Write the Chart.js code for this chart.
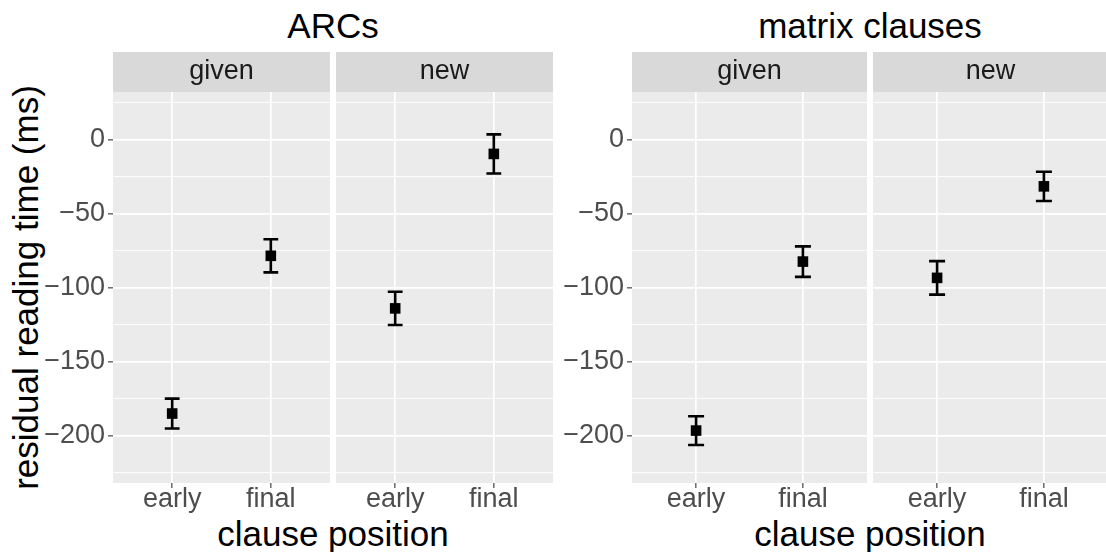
<!DOCTYPE html>
<html>
<head>
<meta charset="utf-8">
<title>Residual reading time by clause position</title>
<script src="https://cdn.jsdelivr.net/npm/chart.js@4/dist/chart.umd.min.js"></script>
<style>
  html, body {
    margin: 0; padding: 0; background: #ffffff;
    width: 1106px; height: 552px; overflow: hidden; position: relative;
    font-family: "Liberation Sans", Arial, sans-serif;
  }
  .panel { position: absolute; }
  .panel canvas { display: block; }
  .label {
    position: absolute; white-space: nowrap; color: #000000;
    font-size: 35px; line-height: 35px; text-align: center;
  }
</style>
</head>
<body>

<div class="label" id="titleLeft"  style="left:183px;  top:8px;   width:300px;">ARCs</div>
<div class="label" id="titleRight" style="left:720px;  top:8px;   width:300px;">matrix clauses</div>
<div class="label" id="xTitleLeft"  style="left:183px; top:516px; width:300px;">clause position</div>
<div class="label" id="xTitleRight" style="left:720px; top:516px; width:300px;">clause position</div>
<div class="label" id="yTitle" style="left:-225px; top:270px; width:500px; transform:rotate(-90deg);">residual reading time (ms)</div>

<div class="panel" id="p1" style="left:43px;  top:52px; width:287px; height:464px;"><canvas id="c1"></canvas></div>
<div class="panel" id="p2" style="left:336px; top:52px; width:217px; height:464px;"><canvas id="c2"></canvas></div>
<div class="panel" id="p3" style="left:562px; top:52px; width:305px; height:464px;"><canvas id="c3"></canvas></div>
<div class="panel" id="p4" style="left:873px; top:52px; width:235px; height:464px;"><canvas id="c4"></canvas></div>

<script>
// ---- data -------------------------------------------------------------
const positions = ['early', 'final'];
const facets = ['given', 'new'];
const yMajorTicks = [-200, -150, -100, -50, 0];
const yMinorTicks = [-225, -175, -125, -75, -25, 25];

// ARCs: mean residual reading time (ms) and standard error, per clause position
const arcGivenMean = [-185.1, -78.6];
const arcGivenSE   = [10.1, 11.2];
const arcNewMean   = [-114.1, -9.8];
const arcNewSE     = [11.2, 13.2];

// matrix clauses
const matGivenMean = [-196.6, -82.5];
const matGivenSE   = [9.7, 10.3];
const matNewMean   = [-93.5, -31.7];
const matNewSE     = [11.3, 9.9];

// ---- styling ----------------------------------------------------------
const FONT = 'Liberation Sans';
const Y_MIN = -232, Y_MAX = 32;
const STRIP_H = 40;
Chart.defaults.font.family = FONT;

const fmt = v => (v < 0 ? '\u2212' + Math.abs(v) : String(v));
const isMajor = v => yMajorTicks.includes(v);

// grey panel background + facet strip
const panelBackground = {
  id: 'panelBackground',
  beforeDraw(chart) {
    const { ctx, chartArea: a } = chart;
    ctx.save();
    ctx.fillStyle = '#D9D9D9';
    ctx.fillRect(a.left, a.top - STRIP_H, a.right - a.left, STRIP_H);
    ctx.fillStyle = '#EBEBEB';
    ctx.fillRect(a.left, a.top, a.right - a.left, a.bottom - a.top);
    ctx.restore();
  }
};

// mean +/- SE error bars, drawn under the points
const errorBars = {
  id: 'errorBars',
  beforeDatasetsDraw(chart, args, opts) {
    const { ctx, scales: { x, y } } = chart;
    const pts = chart.data.datasets[0].data;
    ctx.save();
    ctx.strokeStyle = '#000000';
    ctx.lineWidth = 2.6;
    ctx.lineCap = 'butt';
    pts.forEach((p, i) => {
      const se = opts.se[i];
      const px = x.getPixelForValue(p.x);
      const xl = x.getPixelForValue(p.x - opts.halfWidth);
      const xr = x.getPixelForValue(p.x + opts.halfWidth);
      const yt = y.getPixelForValue(p.y + se);
      const yb = y.getPixelForValue(p.y - se);
      ctx.beginPath();
      ctx.moveTo(px, yt); ctx.lineTo(px, yb);
      ctx.moveTo(xl, yt); ctx.lineTo(xr, yt);
      ctx.moveTo(xl, yb); ctx.lineTo(xr, yb);
      ctx.stroke();
    });
    ctx.restore();
  }
};

function facetPanel(canvasId, stripText, means, ses, showY) {
  return new Chart(document.getElementById(canvasId), {
    type: 'scatter',
    data: {
      datasets: [{
        data: positions.map((p, i) => ({ x: i + 1, y: means[i] })),
        pointStyle: 'rect',
        pointRadius: 7.5,
        pointHoverRadius: 7.5,
        backgroundColor: '#000000',
        borderWidth: 0
      }]
    },
    options: {
      animation: false,
      responsive: true,
      maintainAspectRatio: false,
      events: [],
      layout: { padding: 0, autoPadding: false },
      plugins: {
        legend: { display: false },
        tooltip: { enabled: false },
        title: {
          display: true,
          fullSize: false,
          text: stripText,
          color: '#1A1A1A',
          font: { family: FONT, size: 27, weight: 'normal', lineHeight: 1.2 },
          padding: { top: 3.8, bottom: 3.8 }
        },
        errorBars: { se: ses, halfWidth: 0.075 }
      },
      scales: {
        x: {
          type: 'linear',
          min: 0.4, max: 2.6,
          afterBuildTicks: s => { s.ticks = positions.map((p, i) => ({ value: i + 1 })); },
          afterFit: s => { s.height = 33; },
          ticks: {
            callback: v => positions[v - 1],
            color: '#4D4D4D',
            font: { family: FONT, size: 27, lineHeight: 1 },
            padding: -2,
            maxRotation: 0, autoSkip: false
          },
          grid: { color: '#FFFFFF', lineWidth: 1.7, tickColor: '#333333', tickLength: 5, tickWidth: 1.1 },
          border: { display: false }
        },
        y: {
          type: 'linear',
          min: Y_MIN, max: Y_MAX,
          afterBuildTicks: s => {
            s.ticks = yMinorTicks.concat(yMajorTicks).sort((a, b) => a - b).map(v => ({ value: v }));
          },
          afterFit: s => { s.width = showY ? 70 : 0; },
          ticks: {
            display: showY,
            callback: v => (isMajor(v) ? fmt(v) : ''),
            color: '#4D4D4D',
            font: { family: FONT, size: 27, lineHeight: 1 },
            padding: 3,
            autoSkip: false
          },
          grid: {
            color: '#FFFFFF',
            lineWidth: c => (isMajor(c.tick.value) ? 1.7 : 0.85),
            drawTicks: showY,
            tickLength: 5,
            tickWidth: 1.1,
            tickColor: c => (isMajor(c.tick.value) ? '#333333' : 'rgba(0,0,0,0)')
          },
          border: { display: false }
        }
      }
    },
    plugins: [panelBackground, errorBars]
  });
}

facetPanel('c1', facets[0], arcGivenMean, arcGivenSE, true);
facetPanel('c2', facets[1], arcNewMean, arcNewSE, false);
facetPanel('c3', facets[0], matGivenMean, matGivenSE, true);
facetPanel('c4', facets[1], matNewMean, matNewSE, false);
</script>
</body>
</html>
